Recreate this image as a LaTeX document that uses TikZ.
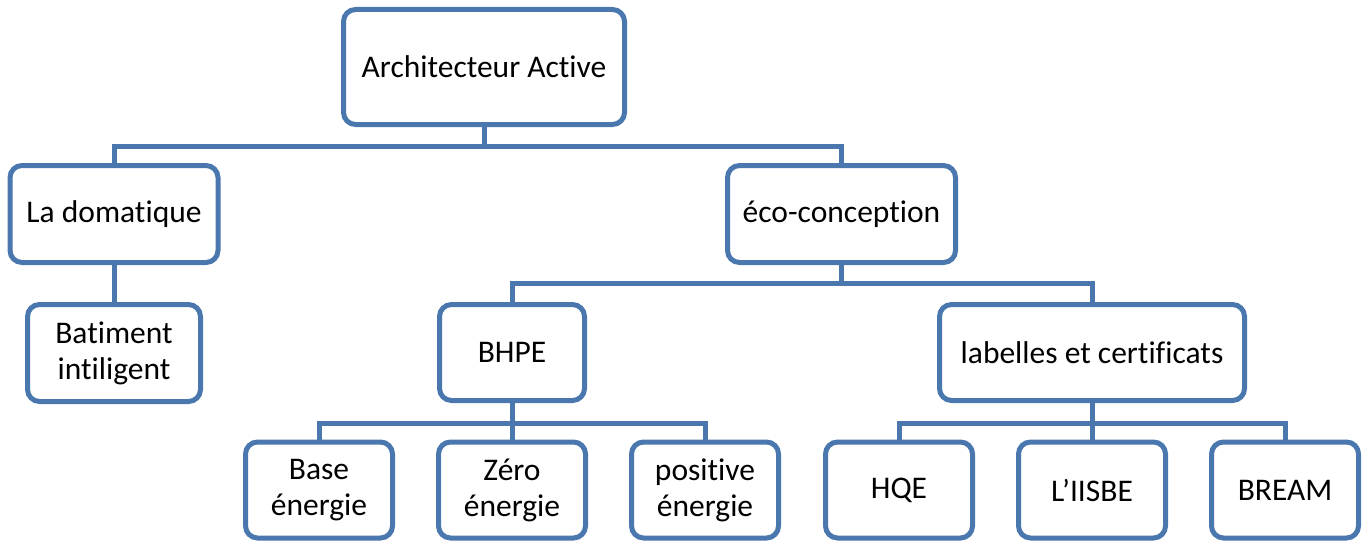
\documentclass[tikz,border=0pt]{standalone}
\usepackage{fontspec}
\setmainfont{Carlito}[Ligatures=NoCommon]
\definecolor{boxblue}{RGB}{74,120,174}
\begin{document}
\begin{tikzpicture}[x=1pt,y=-1pt,
  box/.style={draw=boxblue, line width=5pt, rounded corners=12pt, fill=white,
    align=center, inner sep=0pt, font=\fontsize{31.5}{36}\selectfont},
  conn/.style={draw=boxblue, line width=5pt}]
\useasboundingbox (0,0) rectangle (1368,543);
\node[box, minimum width=281pt, minimum height=115pt] (root) at (484,67) {Architecteur Active};
\node[box, minimum width=208pt, minimum height=97pt] (dom) at (114,214) {La domatique};
\node[box, minimum width=228pt, minimum height=97pt] (eco) at (841.5,214) {éco-conception};
\node[box, minimum width=173pt, minimum height=97pt] (bat) at (114,353) {Batiment\\intiligent};
\node[box, minimum width=145pt, minimum height=96pt] (bhpe) at (512,352.5) {BHPE};
\node[box, minimum width=305pt, minimum height=96pt] (lab) at (1092,352.5) {labelles et certificats};
\node[box, minimum width=147pt, minimum height=96pt] (base) at (319,490) {Base\\énergie};
\node[box, minimum width=147pt, minimum height=96pt] (zero) at (512,490) {Zéro\\énergie};
\node[box, minimum width=147pt, minimum height=96pt] (pos) at (705,490) {positive\\énergie};
\node[box, minimum width=147pt, minimum height=96pt] (hqe) at (899,490) {HQE};
\node[box, minimum width=147pt, minimum height=96pt] (iisbe) at (1092,490) {L’IISBE};
\node[box, minimum width=147pt, minimum height=96pt] (bream) at (1285,490) {BREAM};
\draw[conn] (root.south) -- ++(0,19) -| (dom.north);
\draw[conn] (root.south) ++(0,19) -| (eco.north);
\draw[conn] (dom.south) -- (bat.north);
\draw[conn] (eco.south) -- ++(0,18) -| (bhpe.north);
\draw[conn] (eco.south) ++(0,18) -| (lab.north);
\draw[conn] (bhpe.south) -- ++(0,20) -| (base.north);
\draw[conn] (bhpe.south) -- (zero.north);
\draw[conn] (bhpe.south) ++(0,20) -| (pos.north);
\draw[conn] (lab.south) -- ++(0,20) -| (hqe.north);
\draw[conn] (lab.south) -- (iisbe.north);
\draw[conn] (lab.south) ++(0,20) -| (bream.north);
\end{tikzpicture}
\end{document}
